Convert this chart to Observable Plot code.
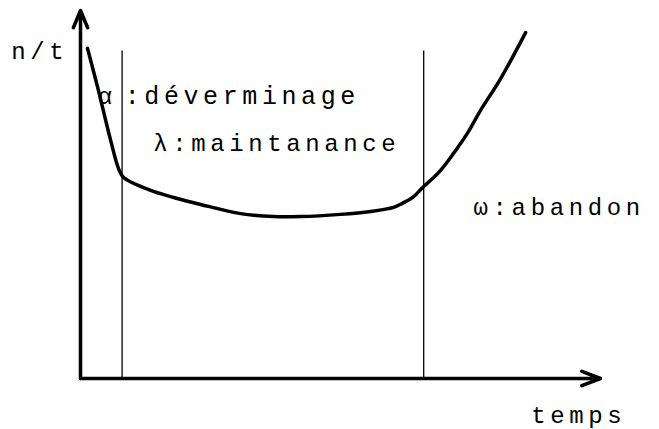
<!DOCTYPE html>
<html>
<head>
<meta charset="utf-8">
<script src="https://cdn.jsdelivr.net/npm/d3@7"></script>
<script src="https://cdn.jsdelivr.net/npm/@observablehq/plot@0.6"></script>
<style>
  html, body { margin: 0; padding: 0; background: #fff; }
  svg text { letter-spacing: 4.6px; }
</style>
</head>
<body>
<div id="chart"></div>
<script>
// Bathtub curve: failure rate n/t vs time (abstract units)
const curveT    = [1.35, 3.3, 5.8, 7.3, 8.3, 13.5, 17.9, 23.1, 30.8, 37.1, 42.3, 50, 55.8, 60.2, 61.9, 63.9, 65.8, 68.9, 71.7, 74.6, 76.9, 80.8, 85.6];
const curveRate = [89.7, 79.1, 64.7, 57.1, 54.6, 51.1, 49.2, 47.3, 44.8, 44.0, 44.0, 44.6, 45.4, 46.5, 47.6, 49.2, 51.9, 56.0, 61.1, 67.1, 72.8, 81.5, 94.0];

// Phase boundaries (time) and their height
const phaseBounds = [8, 66];
const phaseTop = 89;

// Axis extents
const axisMaxT = 100;
const axisMaxRate = 100;

// Labels
const labels    = ["n/t", "α", ":déverminage", "λ:maintanance", "ω:abandon", "temps"];
const labelT    = [-13.3, 3.3, 8.5, 14.0, 75.6, 86.7];
const labelRate = [86.7, 74.5, 74.5, 61.7, 44.3, -12.2];
const labelSize = [24, 24, 25, 24, 24, 24];

const curve = curveT.map((t, i) => ({t, r: curveRate[i]}));
const texts = labels.map((s, i) => ({s, t: labelT[i], r: labelRate[i], fs: labelSize[i]}));

const font = "Liberation Mono";

const chart = Plot.plot({
  width: 659,
  height: 429,
  marginLeft: 80,
  marginRight: 59,
  marginTop: 10,
  marginBottom: 51,
  style: {background: "white", color: "black"},
  x: {domain: [0, axisMaxT], axis: null},
  y: {domain: [0, axisMaxRate], axis: null},
  marks: [
    Plot.ruleX(phaseBounds, {y1: 0, y2: phaseTop, stroke: "black", strokeWidth: 1.3}),
    Plot.arrow([{x1: 0, y1: 0, x2: 0, y2: axisMaxRate}], {
      x1: "x1", y1: "y1", x2: "x2", y2: "y2",
      stroke: "black", strokeWidth: 3.5, headLength: 8, headAngle: 45
    }),
    Plot.arrow([{x1: 0, y1: 0, x2: axisMaxT, y2: 0}], {
      x1: "x1", y1: "y1", x2: "x2", y2: "y2",
      stroke: "black", strokeWidth: 3.5, headLength: 8.6, headAngle: 42
    }),
    Plot.line(curve, {x: "t", y: "r", curve: "catmull-rom", stroke: "black", strokeWidth: 3.5}),
    ...texts.map(d => Plot.text([d], {
      x: "t", y: "r", text: "s",
      textAnchor: "start", lineAnchor: "bottom",
      fontSize: d.fs, fontFamily: font, fill: "black"
    }))
  ]
});

document.getElementById("chart").appendChild(chart);
</script>
</body>
</html>
